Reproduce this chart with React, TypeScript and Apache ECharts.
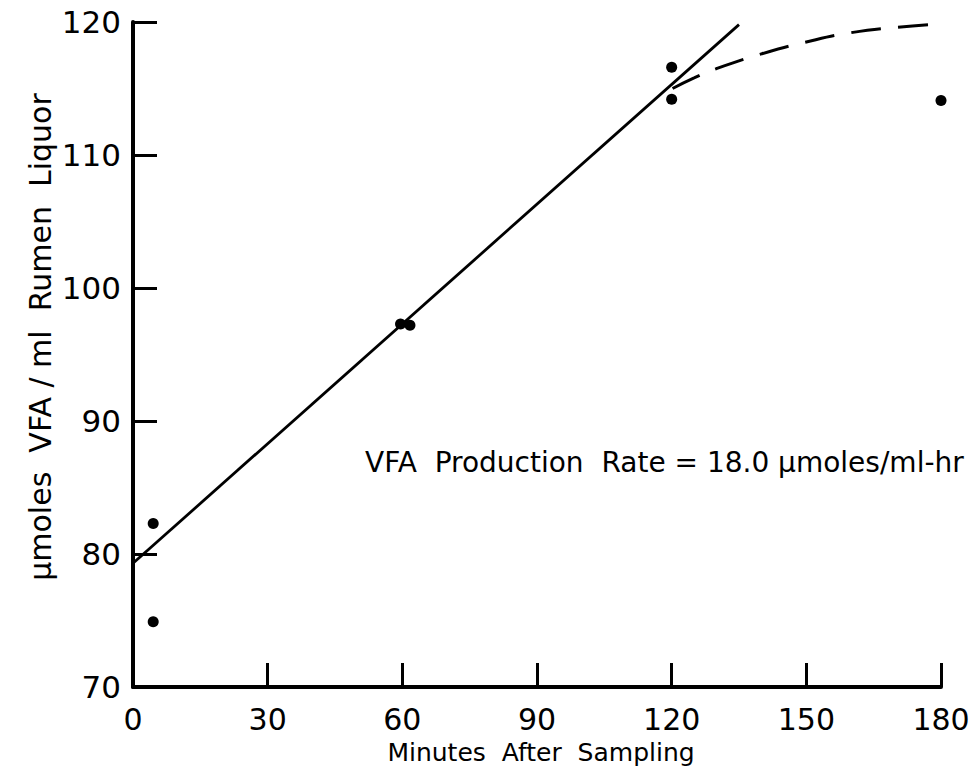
import React, { useEffect, useRef } from "react";
import * as echarts from "echarts";

const pointX = [4.5, 4.5, 59.6, 61.7, 120, 120, 180];
const pointY = [82.3, 74.9, 97.3, 97.2, 116.6, 114.2, 114.1];
const fitX = [0, 135];
const fitY = [79.3, 119.8];
const curveX = [120.2, 125, 130, 140, 150, 160, 170, 182];
const curveY = [115.0, 115.8, 116.5, 117.6, 118.5, 119.2, 119.6, 119.9];
const xTicks = [0, 30, 60, 90, 120, 150, 180];
const yTicks = [70, 80, 90, 100, 110, 120];
const xTitle = "Minutes  After  Sampling";
const yTitle = "\u03bcmoles  VFA / ml  Rumen  Liquor";
const note = "VFA  Production  Rate = 18.0 \u03bcmoles/ml-hr";

const FONT = "DejaVu Sans";

export default function App() {
  const ref = useRef<HTMLDivElement>(null);
  useEffect(() => {
    if (!ref.current) return;
    const chart = echarts.init(ref.current, null, { renderer: "svg" });
    const zip = (a: number[], b: number[]) => a.map((v, i) => [v, b[i]]);
    chart.setOption({
      animation: false,
      backgroundColor: "#ffffff",
      grid: { left: 133, right: 39, top: 22, bottom: 84 },
      xAxis: {
        type: "value",
        min: xTicks[0],
        max: xTicks[xTicks.length - 1],
        interval: 30,
        splitLine: { show: false },
        axisLine: { show: true, lineStyle: { color: "#000", width: 4 } },
        axisTick: { show: true, inside: true, length: 24, lineStyle: { color: "#000", width: 3 } },
        axisLabel: { color: "#000", fontFamily: FONT, fontSize: 30, margin: 17 },
      },
      yAxis: {
        type: "value",
        min: yTicks[0],
        max: yTicks[yTicks.length - 1],
        interval: 10,
        splitLine: { show: false },
        axisLine: { show: true, lineStyle: { color: "#000", width: 4 } },
        axisTick: { show: true, inside: true, length: 24, lineStyle: { color: "#000", width: 3 } },
        axisLabel: { color: "#000", fontFamily: FONT, fontSize: 31, margin: 12 },
      },
      series: [
        {
          type: "line",
          data: zip(fitX, fitY),
          showSymbol: false,
          symbol: "none",
          lineStyle: { color: "#000", width: 2.8 },
          clip: false,
        },
        {
          type: "line",
          data: zip(curveX, curveY),
          smooth: true,
          showSymbol: false,
          symbol: "none",
          lineStyle: { color: "#000", width: 3, type: [30, 17] },
          clip: false,
        },
        {
          type: "scatter",
          data: zip(pointX, pointY),
          symbol: "circle",
          symbolSize: 11,
          itemStyle: { color: "#000", opacity: 1 },
        },
      ],
      graphic: [
        {
          type: "text",
          x: 541,
          y: 752,
          style: {
            text: xTitle,
            fontFamily: FONT,
            fontSize: 25,
            fill: "#000",
            align: "center",
            verticalAlign: "middle",
          },
        },
        {
          type: "text",
          x: 40,
          y: 337,
          rotation: Math.PI / 2,
          style: {
            text: yTitle,
            fontFamily: FONT,
            fontSize: 30,
            fill: "#000",
            align: "center",
            verticalAlign: "middle",
          },
        },
        {
          type: "text",
          x: 365,
          y: 462,
          style: {
            text: note,
            fontFamily: FONT,
            fontSize: 28,
            fill: "#000",
            align: "left",
            verticalAlign: "middle",
          },
        },
      ],
    });
    return () => chart.dispose();
  }, []);
  return (
    <div
      ref={ref}
      style={{ position: "fixed", left: 0, top: 0, width: 980, height: 771, background: "#fff" }}
    />
  );
}
